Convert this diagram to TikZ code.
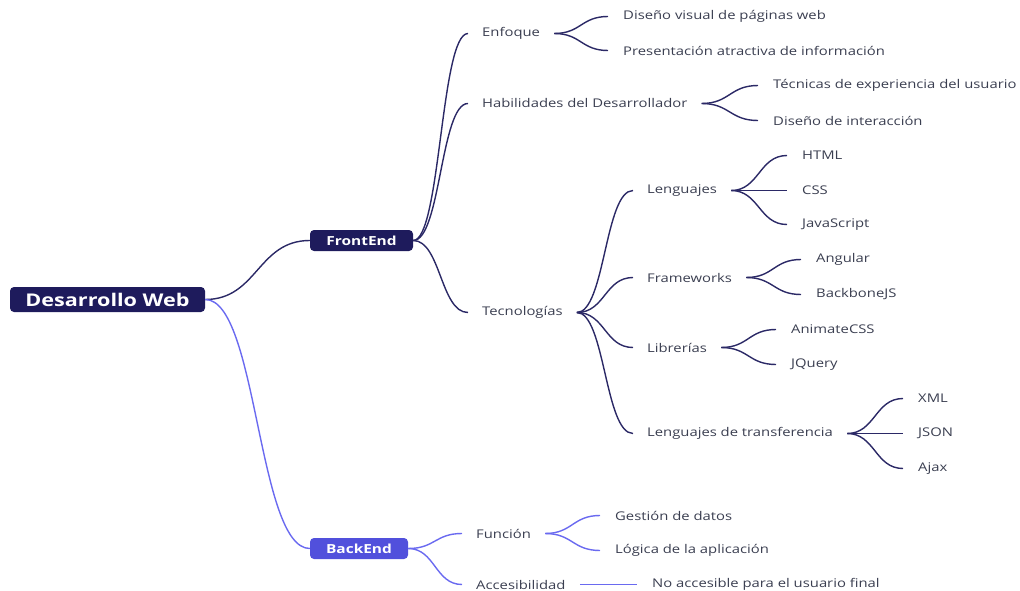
\documentclass[tikz,border=0pt]{standalone}
\usepackage{fontspec}
\setmainfont{Open Sans}[FakeStretch=1.235]
\usetikzlibrary{calc}
\definecolor{navy}{HTML}{1E1B5C}
\definecolor{feline}{HTML}{2B2966}
\definecolor{beline}{HTML}{6A6AF0}
\definecolor{befill}{HTML}{5150DC}
\definecolor{txt}{HTML}{3A3E50}
\tikzset{
  mm/.style={to path={.. controls ($(\tikztostart)!0.5!(\tikztotarget |- \tikztostart)$) and ($(\tikztotarget)!0.5!(\tikztostart |- \tikztotarget)$) .. (\tikztotarget)}},
  fe/.style={draw=feline, line width=1.4pt, mm},
  be/.style={draw=beline, line width=1.4pt, mm},
  lbl/.style={anchor=west, inner xsep=14pt, inner ysep=2pt, text=txt, yshift=-1.5pt, font=\fontsize{12}{14}\selectfont},
  leaf/.style={lbl, inner xsep=15pt},
  rootbox/.style={fill=navy, rounded corners=4pt, text=white, font=\fontsize{17.5}{19}\selectfont\bfseries, minimum width=195pt, minimum height=25pt, inner sep=0pt},
  mainbox/.style={rounded corners=4pt, text=white, font=\fontsize{12.5}{14}\selectfont\bfseries, minimum height=21pt, inner sep=0pt},
}
\begin{document}
\begin{tikzpicture}[x=1pt,y=-1pt]
\useasboundingbox (0,0) rectangle (1020,591);
% main boxes
\node[rootbox] (root) at (107.5,299.5) {Desarrollo Web};
\node[mainbox, fill=navy, minimum width=103pt] (fe) at (361.5,240.5) {FrontEnd};
\node[mainbox, fill=befill, minimum width=98pt] (be) at (359,548.5) {BackEnd};
% frontend level 1
\node[lbl] (enf) at (468,32) {Enfoque};
\node[lbl] (hab) at (468,102) {Habilidades del Desarrollador};
\node[lbl] (tec) at (468,311) {Tecnologías};
% enfoque leaves
\node[leaf] (e1) at (608,15) {Diseño visual de páginas web};
\node[leaf] (e2) at (608,49) {Presentación atractiva de información};
% habilidades leaves
\node[leaf] (h1) at (758,84) {Técnicas de experiencia del usuario};
\node[leaf] (h2) at (758,119) {Diseño de interacción};
% tecnologias
\node[lbl] (len) at (633,189) {Lenguajes};
\node[lbl] (fra) at (633,276) {Frameworks};
\node[lbl] (lib) at (633,346) {Librerías};
\node[lbl] (ltr) at (633,432) {Lenguajes de transferencia};
\node[leaf] (l1) at (787,154) {HTML};
\node[leaf] (l2) at (787,189) {CSS};
\node[leaf] (l3) at (787,223) {JavaScript};
\node[leaf] (f1) at (801,258) {Angular};
\node[leaf] (f2) at (801,293) {BackboneJS};
\node[leaf] (b1) at (776,328) {AnimateCSS};
\node[leaf] (b2) at (776,363) {JQuery};
\node[leaf] (t1) at (903,397) {XML};
\node[leaf] (t2) at (903,432) {JSON};
\node[leaf] (t3) at (903,467) {Ajax};
% backend
\node[lbl] (fun) at (462,532) {Función};
\node[lbl] (acc) at (462,583) {Accesibilidad};
\node[leaf] (g1) at (600,514) {Gestión de datos};
\node[leaf] (g2) at (600,549) {Lógica de la aplicación};
\node[leaf] (a1) at (637,583) {No accesible para el usuario final};
% connectors
\draw[fe] (root.east) to (fe.west);
\draw[be] (root.east) to (be.west);
\foreach \c in {enf,hab,tec} \draw[fe] (fe.east) to (\c.west);
\foreach \c in {e1,e2} \draw[fe] (enf.east) to (\c.west);
\foreach \c in {h1,h2} \draw[fe] (hab.east) to (\c.west);
\foreach \c in {len,fra,lib,ltr} \draw[fe] (tec.east) to (\c.west);
\foreach \c in {l1,l2,l3} \draw[fe] (len.east) to (\c.west);
\foreach \c in {f1,f2} \draw[fe] (fra.east) to (\c.west);
\foreach \c in {b1,b2} \draw[fe] (lib.east) to (\c.west);
\foreach \c in {t1,t2,t3} \draw[fe] (ltr.east) to (\c.west);
\foreach \c in {fun,acc} \draw[be] (be.east) to (\c.west);
\foreach \c in {g1,g2} \draw[be] (fun.east) to (\c.west);
\draw[be] (acc.east) to (a1.west);
\end{tikzpicture}
\end{document}
